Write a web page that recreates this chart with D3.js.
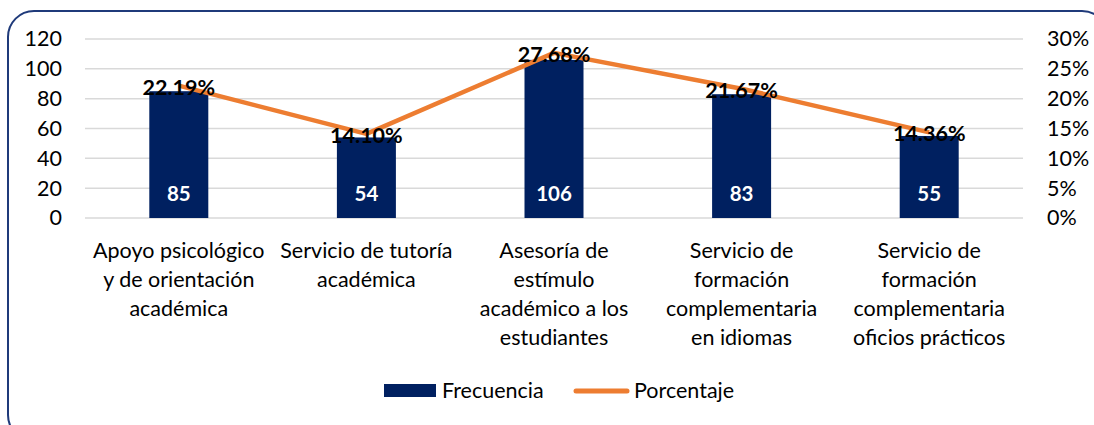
<!DOCTYPE html>
<html><head><meta charset="utf-8">
<script src="https://cdn.jsdelivr.net/npm/d3@7"></script>
<style>body{margin:0;background:#fff}svg{display:block}text{font-family:Lato,"Open Sans",sans-serif}</style>
</head><body>
<svg id="c" width="1094" height="425"></svg>
<script>
const categories = [
  ["Apoyo psicológico","y de orientación","académica"],
  ["Servicio de tutoría","académica"],
  ["Asesoría de","estímulo","académico a los","estudiantes"],
  ["Servicio de","formación","complementaria","en idiomas"],
  ["Servicio de","formación","complementaria","oficios prácticos"]
];
const frecuencia = [85, 54, 106, 83, 55];
const porcentaje = [22.19, 14.10, 27.68, 21.67, 14.36];
const leftTicks = [0, 20, 40, 60, 80, 100, 120];
const rightTicks = [0, 5, 10, 15, 20, 25, 30];
const seriesNames = ["Frecuencia", "Porcentaje"];

const svg = d3.select("#c");
const FS = 21.5;
const blue = "#002060", orange = "#ED7D31";

svg.append("rect").attr("x",8).attr("y",11).attr("width",1100).attr("height",430)
  .attr("rx",26).attr("fill","none").attr("stroke","#1F3A7A").attr("stroke-width",2);

const x0 = 85, x1 = 1023, yTop = 39, yBot = 218;
const x = d3.scaleBand().domain(d3.range(5)).range([x0, x1]).paddingInner(0).paddingOuter(0);
const yL = d3.scaleLinear().domain([0,120]).range([yBot, yTop]);
const yR = d3.scaleLinear().domain([0,30]).range([yBot, yTop]);

// grid
svg.append("g").selectAll("line").data(leftTicks).join("line")
  .attr("x1",x0).attr("x2",x1).attr("y1",d=>yL(d)).attr("y2",d=>yL(d))
  .attr("stroke","#D9D9D9").attr("stroke-width",1.5);

// left axis
const gl = svg.append("g").attr("transform",`translate(${x0},0)`)
  .call(d3.axisLeft(yL).tickValues(leftTicks).tickSize(0).tickPadding(23));
gl.select(".domain").remove();
gl.selectAll("text").attr("font-size",FS).attr("font-family","Lato").attr("fill","#000");

const gr = svg.append("g").attr("transform",`translate(${x1},0)`)
  .call(d3.axisRight(yR).tickValues(rightTicks).tickFormat(d=>d+"%").tickSize(0).tickPadding(24));
gr.select(".domain").remove();
gr.selectAll("text").attr("font-size",FS).attr("font-family","Lato").attr("fill","#000");

// bars
const bw = 59;
svg.append("g").selectAll("rect").data(frecuencia).join("rect")
  .attr("x",(d,i)=>x(i)+x.bandwidth()/2-bw/2).attr("width",bw)
  .attr("y",d=>yL(d)).attr("height",d=>yBot-yL(d)).attr("fill",blue);

svg.append("g").selectAll("text").data(frecuencia).join("text")
  .attr("x",(d,i)=>x(i)+x.bandwidth()/2).attr("y",200.5)
  .attr("text-anchor","middle").attr("font-size",20.5).attr("font-weight","bold").attr("fill","#fff")
  .text(d=>d);

// line
const line = d3.line().x((d,i)=>x(i)+x.bandwidth()/2).y(d=>yR(d));
svg.append("path").datum(porcentaje).attr("d",line).attr("fill","none")
  .attr("stroke",orange).attr("stroke-width",4.5).attr("stroke-linejoin","round");

svg.append("g").selectAll("text").data(porcentaje).join("text")
  .attr("x",(d,i)=>x(i)+x.bandwidth()/2).attr("y",d=>yR(d)+9)
  .attr("text-anchor","middle").attr("font-size",21.5).attr("font-weight","bold").attr("fill","#000")
  .text(d=>d.toFixed(2)+"%");

// category labels
const cg = svg.append("g");
categories.forEach((lines,i)=>{
  const t = cg.append("text").attr("text-anchor","middle").attr("font-size",FS).attr("fill","#000");
  lines.forEach((l,j)=>{
    t.append("tspan").attr("x",x(i)+x.bandwidth()/2).attr("y",258+j*29).text(l);
  });
});

// legend
svg.append("rect").attr("x",384).attr("y",384).attr("width",52).attr("height",13).attr("fill",blue);
svg.append("text").attr("x",442).attr("y",398).attr("font-size",FS).text(seriesNames[0]);
svg.append("line").attr("x1",576).attr("x2",627).attr("y1",391).attr("y2",391)
  .attr("stroke",orange).attr("stroke-width",5).attr("stroke-linecap","round");
svg.append("text").attr("x",634).attr("y",398).attr("font-size",FS).text(seriesNames[1]);
</script>
</body></html>
